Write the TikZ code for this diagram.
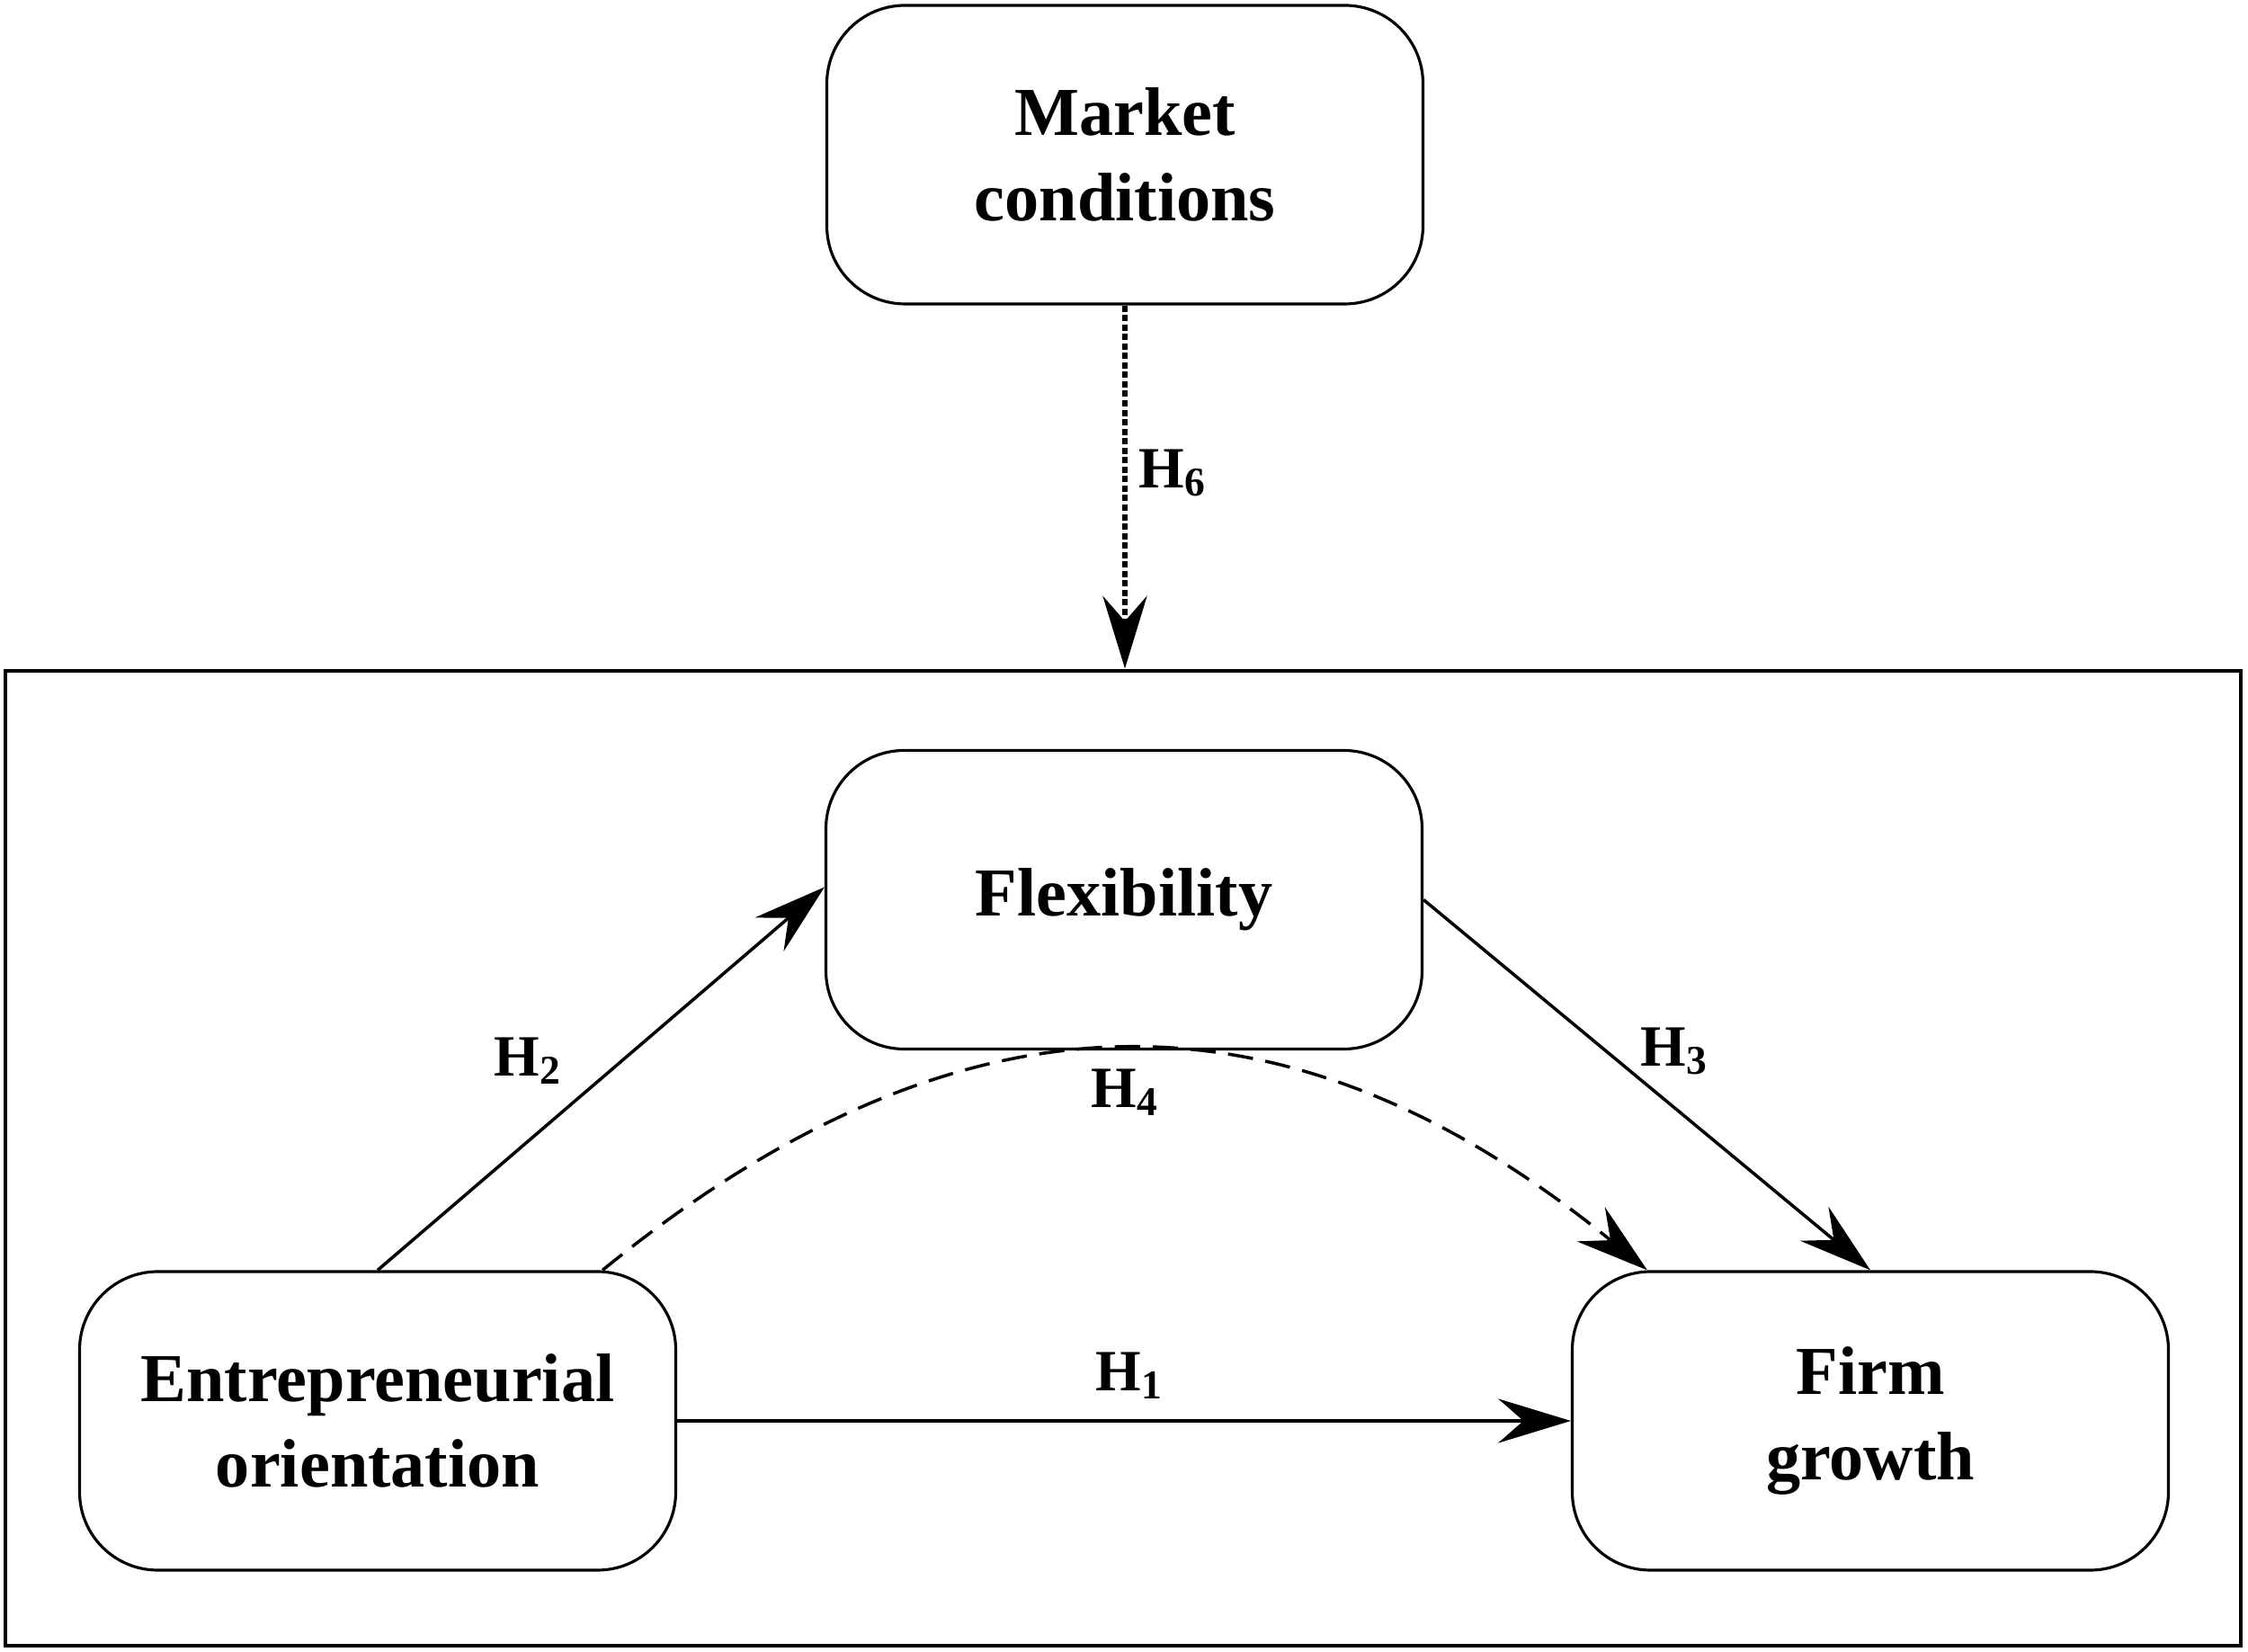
\documentclass[tikz,border=0pt]{standalone}
\usepackage{fontspec}
\setmainfont{Liberation Serif}
\usetikzlibrary{arrows.meta}

\begin{document}
\begin{tikzpicture}[
    construct/.style={draw, line width=0.9pt, rounded corners=0.87cm,
        minimum width=6.63cm, minimum height=3.32cm, align=center,
        font=\fontsize{21.7}{27}\selectfont\bfseries},
    hyp/.style={font=\fontsize{18.5}{22}\selectfont\bfseries},
    link/.style={line width=1pt, -{Stealth[length=23pt, width=14pt, inset=8pt]}}
]
    \useasboundingbox (0,0) rectangle (25,18.36);
    \node (frame) [draw, line width=1.4pt, minimum width=24.86cm, minimum height=10.84cm, inner sep=0pt] at (12.49,5.48) {};
    \node (market) [construct] at (12.51,16.64) {Market\\conditions};
    \node (flex) [construct] at (12.5,8.355) {Flexibility};
    \node (eo) [construct] at (4.2,2.56) {Entrepreneurial\\orientation};
    \node (growth) [construct] at (20.8,2.56) {Firm\\growth};
    % hypotheses
    \draw[link, line width=1.5pt, dash pattern=on 2pt off 1pt] (market.south) -- (market.south |- frame.north);
    \draw[link] (eo.north) -- ([yshift=4pt]flex.west);
    \draw[link] (flex.east) -- (growth.north);
    \draw[link] (eo.east) -- (growth.west);
    \draw[link, dash pattern=on 8pt off 4pt] ([xshift=-0.83cm]eo.north east)
        .. controls +(4,3.26) and +(-4,3.26) .. ([xshift=0.85cm]growth.north west);
    \node (h6) [hyp] at (13.04,13.10) {H\textsubscript{6}};
    \node (h2) [hyp] at (5.87,6.56) {H\textsubscript{2}};
    \node (h3) [hyp] at (18.62,6.67) {H\textsubscript{3}};
    \node (h4) [hyp] at (12.51,6.21) {H\textsubscript{4}};
    \node (h1) [hyp] at (12.56,3.06) {H\textsubscript{1}};
\end{tikzpicture}
\end{document}
